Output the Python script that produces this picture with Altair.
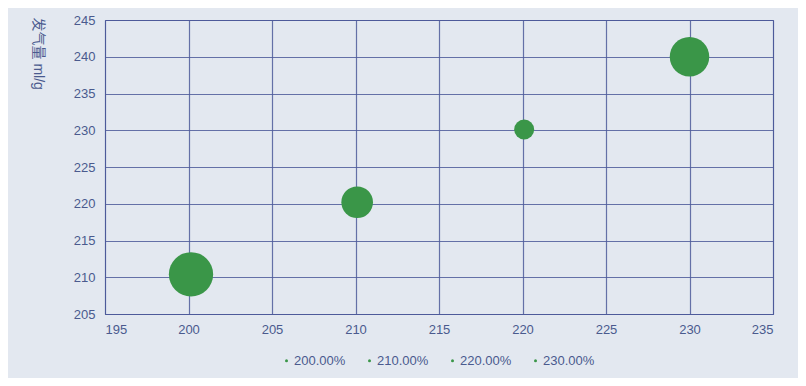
import altair as alt
import pandas as pd

x_vals = [200.15, 210.1, 220.1, 230.0]
y_vals = [210.4, 220.2, 230.1, 240.0]
weights = [49, 25, 10, 39]
labels = ["200.00%", "210.00%", "220.00%", "230.00%"]

df = pd.DataFrame({"x": x_vals, "y": y_vals, "w": weights, "label": labels})

GRID = "#4d5a9a"
TXT = "#4a5a8e"
GREEN = "#3a9648"
FONT = "Liberation Sans, Noto Sans CJK SC, sans-serif"

chart = alt.Chart(df).mark_circle(opacity=1, color=GREEN).encode(
    x=alt.X("x:Q", scale=alt.Scale(domain=[195, 235], nice=False, zero=False),
            axis=alt.Axis(values=list(range(195, 236, 5)), title=None, ticks=False,
                          labelPadding=9, grid=True)),
    y=alt.Y("y:Q", scale=alt.Scale(domain=[205, 245], nice=False, zero=False),
            axis=alt.Axis(values=list(range(205, 246, 5)), title="发气量 ml/g", ticks=False,
                          labelPadding=10, grid=True, domain=False,
                          titleAngle=90, titleAnchor="end", titleAlign="left",
                          titleBaseline="middle", titleX=-68, titleY=-3,
                          titleFontWeight="normal", titleFontSize=14, titleColor=TXT)),
    size=alt.Size("w:Q", scale=alt.Scale(domain=[0, 50], range=[0, 2000]), legend=None),
    color=alt.Color("label:N", scale=alt.Scale(domain=labels, range=[GREEN] * 4),
                    legend=alt.Legend(title=None, orient="none", direction="horizontal",
                                      legendX=175, legendY=334,
                                      columns=4, symbolType="circle", symbolSize=9,
                                      symbolStrokeWidth=0, labelOffset=1, columnPadding=17,
                                      labelFontSize=13, labelColor=TXT, labelFont=FONT)),
).properties(
    width=668, height=294,
    background="#e3e8f0",
    padding={"left": 97, "top": 12, "right": 25, "bottom": 64},
    autosize=alt.AutoSizeParams(type="none"),
).configure_view(
    stroke=GRID, strokeWidth=1
).configure_axis(
    gridColor=GRID, gridOpacity=0.85, gridWidth=1.2,
    domainColor=GRID, domainWidth=1.2,
    labelColor=TXT, labelFontSize=13, labelFont=FONT, titleFont=FONT,
)

chart.save("out.html", embed_options={"renderer": "svg", "actions": False})
